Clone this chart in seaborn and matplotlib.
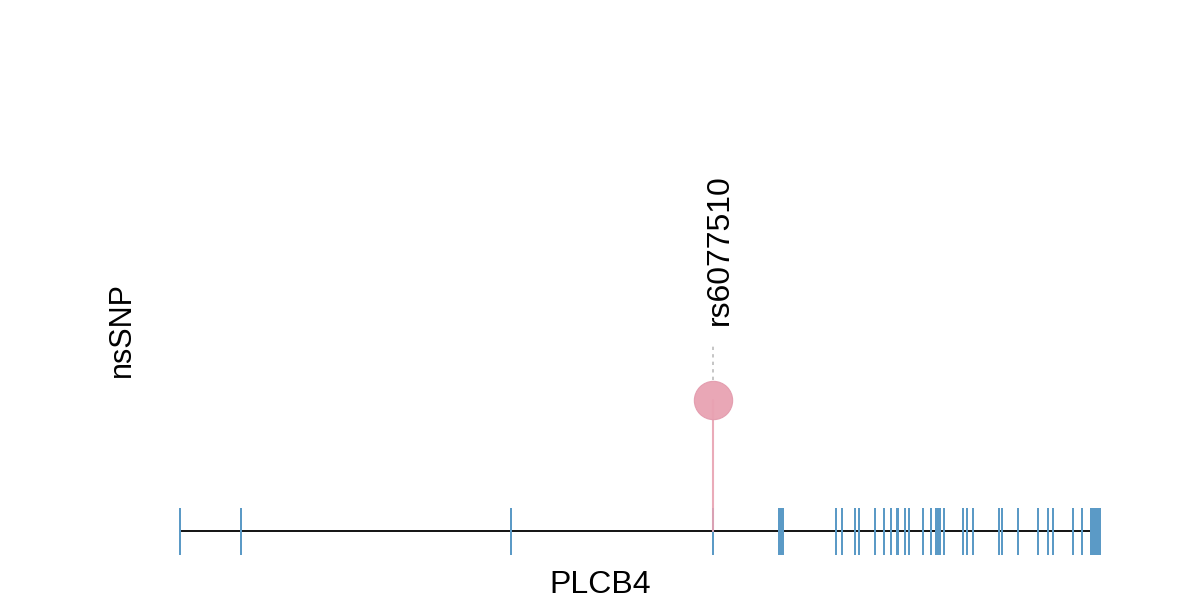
import numpy as np
import pandas as pd
import matplotlib.pyplot as plt
import seaborn as sns

sns.set_theme(style="white")
plt.rcParams['font.family'] = ['Liberation Sans', 'DejaVu Sans']
plt.rcParams['text.color'] = 'black'

# Gene model (positions relative to gene start, arbitrary units)
gene_name = "PLCB4"
track_label = "nsSNP"
gene_length = 911
exon_start = [-1, 60, 330, 532, 598, 655, 661, 674, 678, 694, 703, 710, 716, 724, 728,
              742, 750, 755, 763, 782, 786, 792, 818, 821, 837, 857, 867, 872, 892, 901, 910]
exon_end = [1, 62, 332, 534, 604, 657, 663, 676, 680, 696, 705, 712, 719, 726, 730,
            744, 752, 761, 765, 784, 788, 794, 820, 823, 839, 859, 869, 874, 894, 903, 921]

# SNP track
snp_ids = ["rs6077510"]
snp_pos = [533]
snp_height = [131]

blue = "#5b9ac6"
pink = "#e8a2b2"

fig, ax = plt.subplots(figsize=(12, 6), dpi=100)
ax.set_position([0, 0, 1, 1])
ax.set_xlim(-180, 1020)
ax.set_ylim(-69, 531)
ax.axis("off")

# backbone
ax.plot([0, gene_length], [0, 0], color="black", lw=1.3, zorder=1, solid_capstyle="butt")

# exons
starts = np.array(exon_start)
widths = np.array(exon_end) - starts
ax.bar(starts, 47, width=widths, bottom=-23.5, align="edge", color=blue,
       linewidth=0, zorder=2)

# SNP lollipop
snps = pd.DataFrame({"id": snp_ids, "pos": snp_pos, "height": snp_height})
for _, r in snps.iterrows():
    ax.plot([r.pos, r.pos], [0, r.height], color=pink, lw=1.5, alpha=0.9, zorder=3)
    ax.plot([r.pos, r.pos], [r.height + 20, r.height + 55], color="#bbbbbb",
            lw=1.2, ls=(0, (2, 2.5)), zorder=3)
    ax.text(r.pos + 7, r.height + 75, r.id, rotation=90, ha="center", va="bottom",
            fontsize=23, color="black")
sns.scatterplot(data=snps, x="pos", y="height", s=760, color=pink, edgecolor="#e39cae",
                linewidth=0.8, alpha=0.95, zorder=4, ax=ax, legend=False)

ax.text(gene_length / 2 - 35, -54, gene_name, ha="center", va="center", fontsize=23,
        color="black")
ax.text(-58, 201, track_label, rotation=90, ha="center", va="center", fontsize=22,
        color="black")

fig.savefig("out.png", dpi=100)
